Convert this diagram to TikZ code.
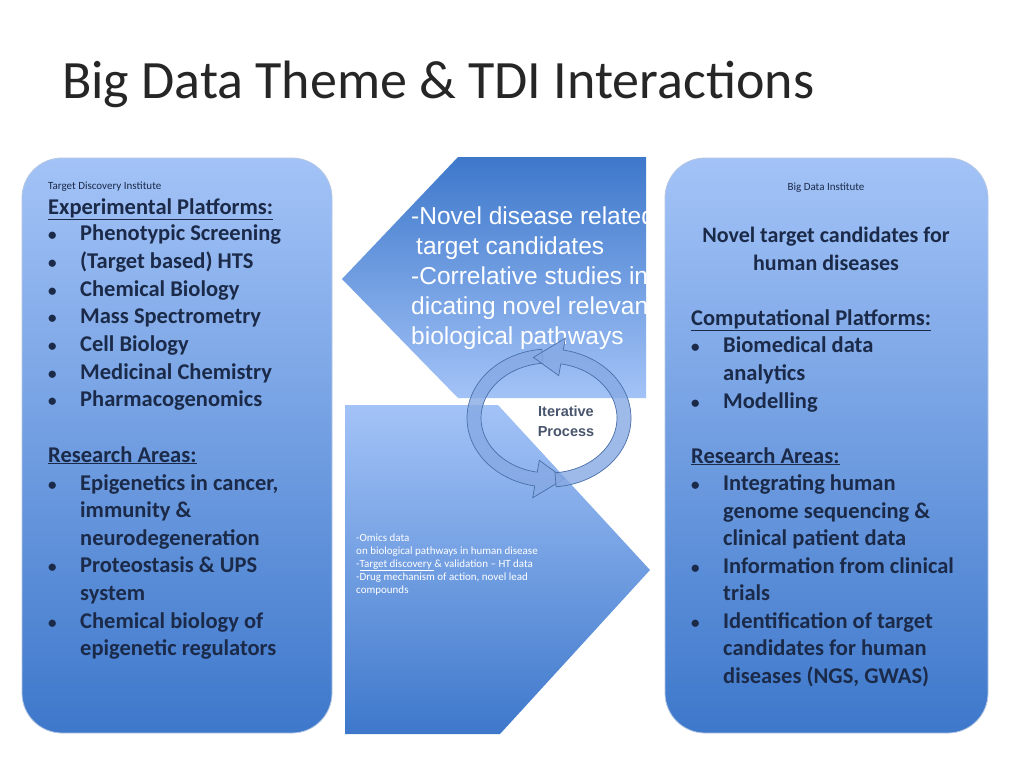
\documentclass[tikz,border=0pt]{standalone}
\usepackage{fontspec}
\setmainfont{Carlito}
\newfontfamily\arialf{Liberation Sans}
\begin{document}
\begin{tikzpicture}[x=1pt,y=-1pt,
  txt/.style={anchor=base west,inner sep=0pt,font=\bfseries\fontsize{22.5}{26}\selectfont,text=navy},
  bul/.style={anchor=base west,inner sep=0pt,font=\bfseries\fontsize{17}{20}\selectfont,text=navy},
  ctxt/.style={anchor=base,inner sep=0pt,font=\bfseries\fontsize{22}{26}\selectfont,text=navy},
  small/.style={inner sep=0pt,font=\fontsize{11}{12}\selectfont,text=navy},
  wtxt/.style={anchor=base west,inner sep=0pt,font=\arialf\fontsize{24.5}{28}\selectfont,text=white},
  stxt/.style={anchor=base west,inner sep=0pt,font=\fontsize{11}{12}\selectfont,text=white},
  box/.style={draw=boxline,line width=0.8pt,rounded corners=40pt},
  band/.style={draw=bandline,fill=bandfill,fill opacity=0.8,line width=0.7pt}]
\definecolor{navy}{HTML}{1B2A48}
\definecolor{dkb}{HTML}{3E78CB}
\definecolor{ltb}{HTML}{A3C3F7}
\definecolor{boxline}{HTML}{B5C7E3}
\definecolor{bandline}{HTML}{4A6FA8}
\definecolor{bandfill}{HTML}{86A9E4}
\useasboundingbox (0,0) rectangle (1024,768);
\fill[white] (0,0) rectangle (1024,768);
% title
\node[anchor=base west,inner sep=0pt,font=\fontsize{54}{58}\selectfont,text=black!85] (title) at (62,98) {Big Data Theme \& TDI Interactions};
% side boxes
\path[box,top color=ltb,bottom color=dkb] (22,158) rectangle (332,733);
\path[box,top color=ltb,bottom color=dkb] (665,158) rectangle (988,733);
% upper arrow
\path[top color=dkb,bottom color=ltb] (458,157) -- (646,157) -- (646,398) -- (458,398) -- (342,279) -- cycle;
% lower arrow
\path[top color=ltb,bottom color=dkb] (345,405) -- (498,405) -- (650,570) -- (500,734) -- (345,734) -- cycle;
% upper text clipped
\begin{scope}
\clip (342,157) rectangle (646,398);
\node[wtxt] (u1) at (411,224) {-Novel disease related};
\node[wtxt] (u2) at (416,254) {target candidates};
\node[wtxt] (u3) at (411,284) {-Correlative studies in};
\node[wtxt] (u4) at (411,314) {dicating novel relevant};
\node[wtxt] (u5) at (411,344) {biological pathways};
\end{scope}
% lower text
\node[stxt] (o1) at (356,541) {-Omics data};
\node[stxt] (o2) at (356,554) {on biological pathways in human disease};
\node[stxt] (o3) at (356,567) {-\underline{Target discovery }\& validation -- HT data};
\node[stxt] (o4) at (356,580) {-Drug mechanism of action, novel lead};
\node[stxt] (o5) at (356,593) {compounds};
% circular arrows
\path[band] plot[domain=265:100,smooth,samples=40] ({549+82*cos(\x)},{418+69*sin(\x)})
  -- ({549+94*cos(100)},{418+81*sin(100)}) -- ({549+75*cos(78)},{418+62*sin(78)})
  -- ({549+56*cos(100)},{418+43*sin(100)})
  -- plot[domain=100:265,smooth,samples=40] ({549+68*cos(\x)},{418+55*sin(\x)}) -- cycle;
\path[band] plot[domain=85:-80,smooth,samples=40] ({549+82*cos(\x)},{418+69*sin(\x)})
  -- ({549+94*cos(-80)},{418+81*sin(-80)}) -- ({549+75*cos(-102)},{418+62*sin(-102)})
  -- ({549+56*cos(-80)},{418+43*sin(-80)})
  -- plot[domain=-80:85,smooth,samples=40] ({549+68*cos(\x)},{418+55*sin(\x)}) -- cycle;
\node[align=center,inner sep=0pt,font=\arialf\bfseries\fontsize{14.5}{20}\selectfont,text=navy!80] (iter) at (566,421) {Iterative\\Process};
% left box text
\node[small,anchor=base west] (tdi) at (48,189) {Target Discovery Institute};
\node[txt] (ep) at (48,214) {\underline{Experimental Platforms:}};
\foreach \t [count=\i] in {Phenotypic Screening,(Target based) HTS,Chemical Biology,Mass Spectrometry,Cell Biology,Medicinal Chemistry,Pharmacogenomics}{
  \node[bul] (lb\i) at (48,{213+27.7*\i}) {•};
  \node[txt] (lt\i) at (80,{213+27.7*\i}) {\t};
}
\node[txt] (ra) at (48,462) {\underline{Research Areas:}};
\node[bul] (rb1) at (48,490) {•};
\node[bul] (rb2) at (48,572) {•};
\node[bul] (rb3) at (48,628) {•};
\node[txt] (r1) at (80,490) {Epigenetics in cancer,};
\node[txt] (r2) at (80,517) {immunity \&};
\node[txt] (r3) at (80,545) {neurodegeneration};
\node[txt] (r4) at (80,572) {Proteostasis \& UPS};
\node[txt] (r5) at (80,600) {system};
\node[txt] (r6) at (80,628) {Chemical biology of};
\node[txt] (r7) at (80,655) {epigenetic regulators};
% right box text
\node[small,anchor=base] (bdi) at (826,190) {Big Data Institute};
\node[ctxt] (n1) at (826,242) {Novel target candidates for};
\node[ctxt] (n2) at (826,270) {human diseases};
\node[txt] (cp) at (691,325) {\underline{Computational Platforms:}};
\node[bul] (cb1) at (691,352) {•};
\node[txt] (c1) at (723,352) {Biomedical data};
\node[txt] (c2) at (723,380) {analytics};
\node[bul] (cb2) at (691,408) {•};
\node[txt] (c3) at (723,408) {Modelling};
\node[txt] (ra2) at (691,463) {\underline{Research Areas:}};
\node[bul] (sb1) at (691,490) {•};
\node[bul] (sb2) at (691,573) {•};
\node[bul] (sb3) at (691,628) {•};
\node[txt] (s1) at (723,490) {Integrating human};
\node[txt] (s2) at (723,518) {genome sequencing \&};
\node[txt] (s3) at (723,545) {clinical patient data};
\node[txt] (s4) at (723,573) {Information from clinical};
\node[txt] (s5) at (723,600) {trials};
\node[txt] (s6) at (723,628) {Identification of target};
\node[txt] (s7) at (723,655) {candidates for human};
\node[txt] (s8) at (723,683) {diseases (NGS, GWAS)};
\end{tikzpicture}
\end{document}
